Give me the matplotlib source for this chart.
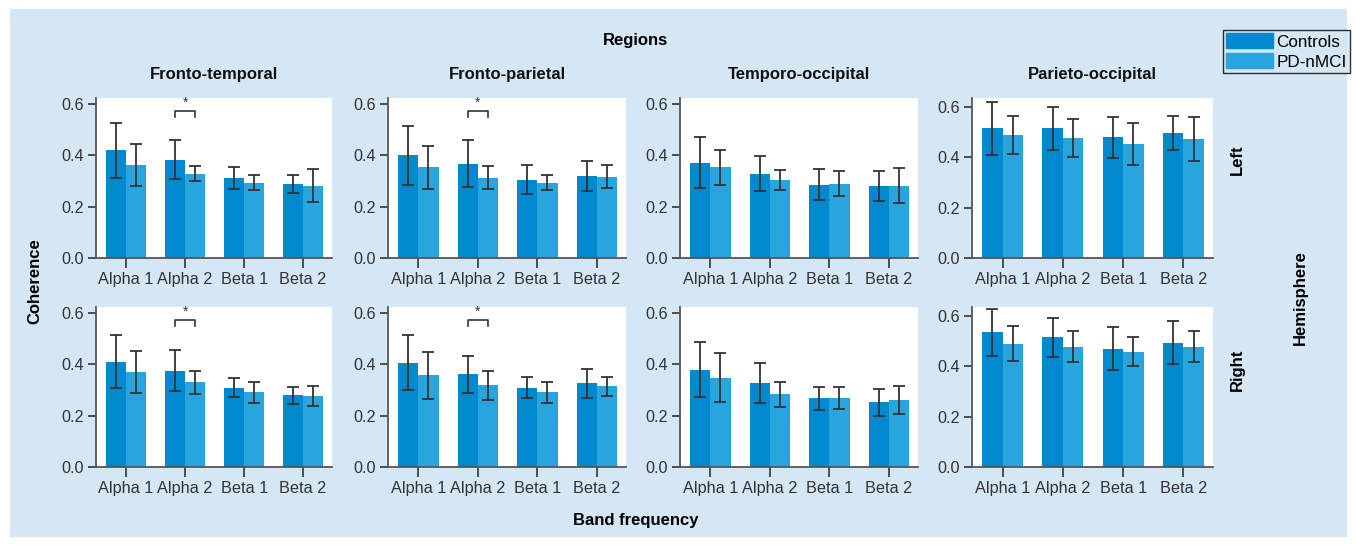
import matplotlib
matplotlib.use('Agg')
import matplotlib.pyplot as plt
import numpy as np
from matplotlib.patches import Rectangle, Patch

plt.rcParams['font.family'] = ['Liberation Sans', 'DejaVu Sans']

regions = ['Fronto-temporal', 'Fronto-parietal', 'Temporo-occipital', 'Parieto-occipital']
bands = ['Alpha 1', 'Alpha 2', 'Beta 1', 'Beta 2']
hemispheres = ['Left', 'Right']

# mean coherence, one row per region (Alpha 1, Alpha 2, Beta 1, Beta 2)
ctrl_left = [[0.42, 0.384, 0.313, 0.29],
             [0.40, 0.368, 0.305, 0.321],
             [0.372, 0.329, 0.286, 0.282],
             [0.514, 0.514, 0.479, 0.495]]
ctrl_left_err = [[0.108, 0.077, 0.043, 0.035],
                 [0.115, 0.092, 0.057, 0.058],
                 [0.098, 0.067, 0.061, 0.059],
                 [0.104, 0.086, 0.081, 0.068]]
pd_left = [[0.364, 0.329, 0.294, 0.282],
           [0.353, 0.313, 0.294, 0.317],
           [0.353, 0.305, 0.29, 0.282],
           [0.487, 0.475, 0.452, 0.471]]
pd_left_err = [[0.082, 0.03, 0.028, 0.065],
               [0.085, 0.045, 0.028, 0.045],
               [0.067, 0.039, 0.048, 0.068],
               [0.076, 0.075, 0.083, 0.087]]

ctrl_right = [[0.411, 0.376, 0.31, 0.279],
              [0.407, 0.361, 0.31, 0.326],
              [0.38, 0.326, 0.268, 0.252],
              [0.535, 0.514, 0.47, 0.494]]
ctrl_right_err = [[0.102, 0.081, 0.036, 0.033],
                  [0.106, 0.071, 0.041, 0.055],
                  [0.108, 0.078, 0.045, 0.052],
                  [0.094, 0.078, 0.087, 0.085]]
pd_right = [[0.369, 0.33, 0.291, 0.276],
            [0.357, 0.318, 0.291, 0.314],
            [0.349, 0.283, 0.268, 0.26],
            [0.49, 0.478, 0.458, 0.478]]
pd_right_err = [[0.082, 0.045, 0.041, 0.04],
                [0.09, 0.057, 0.041, 0.036],
                [0.094, 0.049, 0.043, 0.055],
                [0.069, 0.061, 0.057, 0.063]]

# significant Controls vs PD-nMCI differences: (hemisphere, region, band)
signif = [(0, 0, 1), (0, 1, 1), (1, 0, 1), (1, 1, 1)]

c_ctrl = '#0089cf'
c_pd = '#29a5de'
bg = '#d5e6f5'
ink = '#333333'

W, H = 1356, 546
fig = plt.figure(figsize=(W / 100, H / 100), dpi=100, facecolor='white')
fig.patches.append(Rectangle((10 / W, 9 / H), 1337 / W, 528 / H, transform=fig.transFigure,
                             facecolor=bg, edgecolor='none', zorder=-10))

lefts = [96, 388, 680, 972]
widths = [236, 238, 238, 241]
rows = [(98, 258), (307, 467)]

means = [ctrl_left, ctrl_right]
errs = [ctrl_left_err, ctrl_right_err]
means2 = [pd_left, pd_right]
errs2 = [pd_left_err, pd_right_err]

x = np.arange(len(bands))
bw = 0.34
for r, (top, bot) in enumerate(rows):
    for c in range(4):
        ax = fig.add_axes([lefts[c] / W, 1 - bot / H, widths[c] / W, (bot - top) / H])
        ax.set_facecolor('white')
        ek = dict(ecolor=ink, elinewidth=1.3, capsize=4.5, capthick=1.3)
        ax.bar(x - bw / 2, means[r][c], bw, yerr=errs[r][c], color=c_ctrl,
               error_kw=ek, label='Controls')
        ax.bar(x + bw / 2, means2[r][c], bw, yerr=errs2[r][c], color=c_pd,
               error_kw=ek, label='PD-nMCI')
        ax.set_xlim(-0.51, 3.49)
        ax.set_ylim(0, 0.635 if c == 3 else 0.624)
        ax.set_yticks([0, 0.2, 0.4, 0.6])
        ax.set_yticklabels(['0.0', '0.2', '0.4', '0.6'])
        ax.set_xticks(x)
        ax.set_xticklabels(bands)
        ax.tick_params(labelsize=11.7, colors=ink, length=6, width=1.2, pad=3)
        ax.tick_params(axis='x', length=7)
        for s in ['top', 'right']:
            ax.spines[s].set_visible(False)
        for s in ['left', 'bottom']:
            ax.spines[s].set_color('#555555')
            ax.spines[s].set_linewidth(1.3)
        for h, rg, b in signif:
            if h == r and rg == c:
                yb = 0.574
                ax.plot([b - bw / 2, b - bw / 2, b + bw / 2, b + bw / 2],
                        [yb - 0.024, yb, yb, yb - 0.024], color=ink, lw=1.2)
                ax.text(b, yb + 0.006, '*', ha='center', va='bottom', fontsize=10, color=ink)
        if r == 0:
            ax.set_title(regions[c], fontsize=12, fontweight='bold', color='#111111', pad=14)

fs = 12
fig.text(636 / W, 1 - 41 / H, 'Regions', ha='center', va='center', fontsize=fs, fontweight='bold')
fig.text(636 / W, 1 - 521 / H, 'Band frequency', ha='center', va='center', fontsize=fs, fontweight='bold')
fig.text(35 / W, 1 - 281 / H, 'Coherence', ha='center', va='center', rotation=90, fontsize=fs, fontweight='bold')
fig.text(1300 / W, 1 - 298 / H, 'Hemisphere', ha='center', va='center', rotation=90, fontsize=fs, fontweight='bold')
fig.text(1237 / W, 1 - 160 / H, hemispheres[0], ha='center', va='center', rotation=90, fontsize=fs, fontweight='bold')
fig.text(1237 / W, 1 - 370 / H, hemispheres[1], ha='center', va='center', rotation=90, fontsize=fs, fontweight='bold')

handles = [Patch(color=c_ctrl, label='Controls'), Patch(color=c_pd, label='PD-nMCI')]
leg = fig.legend(handles=handles, loc='upper right', bbox_to_anchor=(1350 / W, 1 - 30 / H),
                 fontsize=12.3, frameon=True, fancybox=False, handlelength=2.75, handleheight=0.95,
                 handletextpad=0.2, borderpad=0.2, labelspacing=0.22, borderaxespad=0)
leg.get_frame().set_edgecolor('black')
leg.get_frame().set_linewidth(1.0)
leg.get_frame().set_facecolor(bg)

fig.savefig('out.png', dpi=100, facecolor='white')
